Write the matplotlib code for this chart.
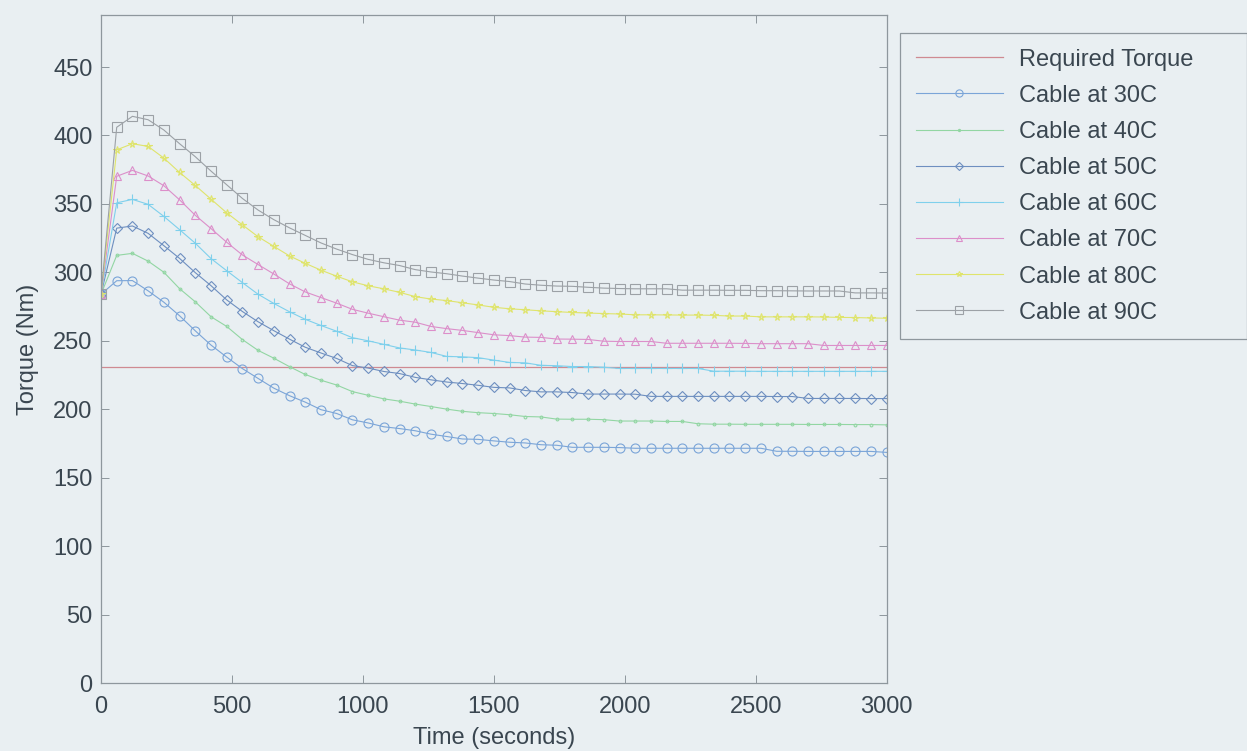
import matplotlib
matplotlib.use("Agg")
import matplotlib.pyplot as plt

plt.rcParams['font.family'] = ['Liberation Sans', 'DejaVu Sans']

# Sample times (s)
time_s = list(range(0, 3001, 60))

# Required torque (Nm), constant over the run
required_time = [0, 3000]
required_torque = [231, 231]

# Cable torque (Nm) at each sample time, per cable temperature
cable_30c = [284, 293.9, 294, 286.5, 278.2, 268.3, 257.3, 246.9, 238.1, 229.7,
             222.5, 215.4, 209.9, 205.2, 199.7, 196.9, 192.3, 190, 187.2, 185.9,
             184.3, 181.8, 180.1, 178.3, 178, 176.9, 175.9, 175.4, 174.1, 173.7,
             172.2, 172.2, 172.2, 172, 171.5, 171.5, 171.5, 171.5, 171.5, 171.5,
             171.5, 171.5, 171.5, 169.3, 169.3, 169.2, 169.2, 169.2, 169.2, 169.2,
             168.5]
cable_40c = [284, 312.4, 313.9, 308.2, 300.1, 288.1, 278.5, 267.6, 260.5, 250.9,
             243, 237.3, 231.1, 225.4, 221.2, 217.7, 212.9, 210.2, 207.6, 205.9,
             203.8, 202, 200.1, 198.5, 197.5, 196.9, 196, 194.7, 194.4, 192.8,
             192.7, 192.7, 192.4, 191.4, 191.4, 191.4, 191.1, 191.1, 189.4, 189.1,
             189.1, 189, 189, 189, 189, 188.9, 188.9, 188.9, 188.8, 188.8,
             188.6]
cable_50c = [284, 332.3, 333.9, 328.5, 319.5, 310.2, 299.8, 290.3, 279.9, 271.4,
             263.9, 257.4, 251.2, 245.3, 241.1, 237.1, 231.9, 230.1, 227.6, 226.1,
             223.3, 221.5, 219.9, 218.8, 217.5, 216, 215.6, 213.7, 212.7, 212.7,
             212.2, 211.1, 211.1, 211.1, 211, 209.4, 209.4, 209.4, 209.4, 209.4,
             209.4, 209.4, 209.4, 209.3, 209.3, 207.9, 207.9, 207.9, 207.9, 207.8,
             207.8]
cable_60c = [284, 350.8, 353.3, 349.7, 340.9, 331.2, 321.3, 310.1, 301.2, 292.5,
             284, 277.3, 271.2, 265.7, 261.2, 257, 252.3, 250, 247.4, 244.8,
             243.3, 241.5, 238.6, 238.3, 237.7, 235.9, 234.2, 233.9, 232.1, 231.8,
             231.2, 231.2, 230.7, 229.8, 229.8, 229.8, 229.8, 229.8, 229.8, 227.8,
             227.8, 227.8, 227.7, 227.7, 227.7, 227.7, 227.7, 227.7, 227.7, 227.7,
             227.7]
cable_70c = [284, 370.2, 374.5, 370.4, 363.3, 353, 341.7, 332, 322, 312.7,
             305.7, 298.8, 291.6, 285.7, 281.6, 277.5, 273, 270.2, 267.6, 265.1,
             263.6, 260.5, 258.9, 257.6, 256, 254.4, 253.8, 252.7, 252.5, 251.3,
             251.2, 251, 249.7, 249.5, 249.5, 249.5, 248.2, 248.2, 248.2, 248.2,
             248.2, 248.1, 247.9, 247.9, 247.9, 247.9, 246.6, 246.6, 246.6, 246.6,
             246.6]
cable_80c = [284, 389.5, 394, 392, 383.5, 373, 363.5, 353.5, 343.5, 334.7,
             326, 319, 312, 306.6, 301.6, 297.2, 293.1, 290.2, 288, 285.4,
             282.3, 280.5, 279.4, 277.8, 276.2, 274.5, 273.4, 272.7, 271.9, 271.3,
             270.7, 270.3, 269.9, 269.6, 269, 269, 268.9, 268.8, 268.8, 268.6,
             268.1, 268.1, 267.5, 267.5, 267.5, 267.5, 267.4, 267.1, 267, 266.7,
             266.5]
cable_90c = [284, 406, 414, 411.5, 404, 394, 384.5, 374, 364, 354,
             345.5, 338.5, 332.5, 327, 321.5, 317, 313, 309.5, 307, 305,
             302, 300.3, 299, 297.3, 295.8, 294.4, 293.3, 291.5, 290.6, 290,
             289.8, 289.1, 288.5, 288.2, 288, 288, 288, 287, 287, 287,
             286.9, 286.9, 286.6, 286.6, 286.5, 286.4, 286.4, 286.4, 285, 285,
             284.9]

series_labels = ['Cable at 30C', 'Cable at 40C', 'Cable at 50C', 'Cable at 60C',
                 'Cable at 70C', 'Cable at 80C', 'Cable at 90C']
x_ticks = [0, 500, 1000, 1500, 2000, 2500, 3000]
y_ticks = [0, 50, 100, 150, 200, 250, 300, 350, 400, 450]

bg = '#e9eff2'
text_col = '#3a4650'
axis_col = '#8e979d'

fig = plt.figure(figsize=(12.47, 7.51), dpi=100)
fig.patch.set_facecolor(bg)
ax = fig.add_axes([0.081, 0.0905, 0.630, 0.8895])
ax.set_facecolor(bg)

ax.plot(required_time, required_torque, color='#cf8a92', lw=0.9,
        label='Required Torque')

styles = [
    dict(color='#7ba5d8', marker='o', ms=6.5),
    dict(color='#92d6a3', marker='.', ms=4),
    dict(color='#6e8fc0', marker='D', ms=5),
    dict(color='#7fd0ec', marker='+', ms=6.5),
    dict(color='#dc8fca', marker='^', ms=6),
    dict(color='#dfe46c', marker='*', ms=5.5),
    dict(color='#9ca1a6', marker='s', ms=6.5),
]
all_series = [cable_30c, cable_40c, cable_50c, cable_60c,
              cable_70c, cable_80c, cable_90c]
for values, label, st in zip(all_series, series_labels, styles):
    ax.plot(time_s, values, color=st['color'], lw=0.8, marker=st['marker'],
            ms=st['ms'], mfc='none', mec=st['color'], mew=0.8, label=label)

ax.set_xlim(0, 3000)
ax.set_ylim(0, 488)
ax.set_xticks(x_ticks)
ax.set_yticks(y_ticks)
ax.tick_params(direction='in', length=6, width=0.7, colors=axis_col,
               labelcolor=text_col, labelsize=17, top=True, right=True)
ax.tick_params(axis='x', pad=9)
ax.tick_params(axis='y', pad=6)
for sp in ax.spines.values():
    sp.set_color(axis_col)
    sp.set_linewidth(0.9)

ax.set_xlabel('Time (seconds)', fontsize=17, color=text_col, labelpad=7)
ax.set_ylabel('Torque (Nm)', fontsize=17, color=text_col, labelpad=10)

leg = fig.legend(loc='upper left',
                 bbox_to_anchor=(900 / 1247, 1 - 335 / 751, 347 / 1247, 302 / 751),
                 mode='expand', fontsize=17, frameon=True, fancybox=False,
                 handlelength=3.7, handletextpad=0.7, labelspacing=0.6,
                 borderpad=0.66, borderaxespad=0.0, numpoints=1, markerscale=0.8)
leg.get_frame().set_facecolor(bg)
leg.get_frame().set_edgecolor(axis_col)
leg.get_frame().set_linewidth(0.9)
leg.get_frame().set_alpha(1)
for t in leg.get_texts():
    t.set_color(text_col)

fig.savefig('out.png', dpi=100, facecolor=bg)
